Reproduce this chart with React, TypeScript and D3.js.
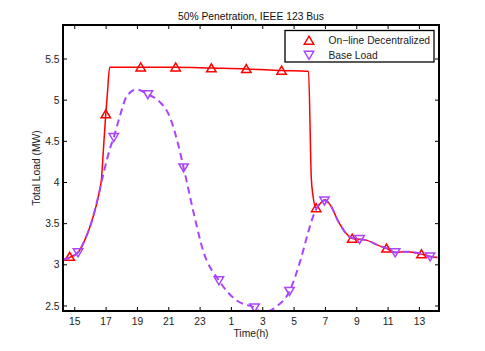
import React from "react";
import * as d3 from "d3";

// time in hours from 14:15 (values past 24 are the next morning)
const redTimes = [14.25, 14.68, 15.21, 15.64, 16.17, 16.55, 16.7, 16.84, 16.98, 17.08, 17.23, 19.21, 21.44, 23.72, 25.95, 28.2, 29.92, 30.1, 30.2, 30.41, 30.7, 30.98, 31.26, 31.9, 32.54, 32.71, 33.18, 33.6, 34.45, 34.9, 35.45, 36.15, 37.13, 37.68, 38.15];
const redLoad = [3.06, 3.09, 3.15, 3.3, 3.58, 3.87, 4.03, 4.43, 4.83, 5.07, 5.4, 5.4, 5.4, 5.39, 5.38, 5.36, 5.35, 4.05, 3.85, 3.69, 3.75, 3.79, 3.74, 3.5, 3.34, 3.32, 3.31, 3.3, 3.23, 3.2, 3.15, 3.16, 3.13, 3.1, 3.09];

const baseTimes = [14.25, 14.68, 15.21, 15.64, 16.17, 16.55, 16.85, 17.23, 17.49, 17.87, 18.3, 18.93, 19.67, 20.42, 21.06, 21.59, 21.95, 22.65, 23.18, 24.2, 25.31, 26.48, 26.99, 27.86, 28.71, 29.35, 29.88, 30.18, 30.94, 31.26, 31.9, 32.54, 33.18, 33.6, 34.45, 34.94, 35.45, 36.15, 37.0, 37.68, 38.15];
const baseLoad = [3.06, 3.09, 3.15, 3.3, 3.58, 3.87, 4.12, 4.4, 4.55, 4.8, 5.04, 5.13, 5.07, 4.98, 4.8, 4.47, 4.18, 3.58, 3.18, 2.81, 2.57, 2.48, 2.42, 2.49, 2.68, 3.02, 3.38, 3.57, 3.78, 3.74, 3.5, 3.34, 3.31, 3.3, 3.23, 3.2, 3.15, 3.16, 3.14, 3.1, 3.09];

const redMarkTimes = [14.68, 16.98, 19.21, 21.44, 23.72, 25.95, 28.2, 30.41, 32.71, 34.9, 37.13];
const redMarkLoad = [3.1, 4.83, 5.4, 5.4, 5.39, 5.38, 5.36, 3.69, 3.32, 3.2, 3.13];
const baseMarkTimes = [15.21, 17.49, 19.67, 21.95, 24.2, 26.48, 28.71, 30.94, 33.18, 35.45, 37.68];
const baseMarkLoad = [3.15, 4.55, 5.07, 4.18, 2.81, 2.48, 2.68, 3.78, 3.31, 3.15, 3.1];

const xTickValues = [15, 17, 19, 21, 23, 25, 27, 29, 31, 33, 35, 37];
const xTickLabels = ["15", "17", "19", "21", "23", "1", "3", "5", "7", "9", "11", "13"];
const yTickValues = [2.5, 3, 3.5, 4, 4.5, 5, 5.5];

const RED = "#ff0000";
const PURPLE = "#aa44ff";
const FONT = "'Liberation Sans', Arial, sans-serif";

const upTri = "M0,-4.3L4.7,3.7L-4.7,3.7Z";
const downTri = "M0,4.3L4.7,-3.7L-4.7,-3.7Z";

export default function App() {
  const left = 63, right = 439, top = 25, bottom = 311;
  const x = d3.scaleLinear().domain([14.25, 38.25]).range([left, right]);
  const y = d3.scaleLinear().domain([2.439, 5.913]).range([bottom, top]);

  const line = d3
    .line<[number, number]>()
    .x((d) => x(d[0]))
    .y((d) => y(d[1]))
    .curve(d3.curveMonotoneX);

  const redPath = line(redTimes.map((t, i) => [t, redLoad[i]])) || "";
  const basePath = line(baseTimes.map((t, i) => [t, baseLoad[i]])) || "";

  return (
    <svg width={485} height={351} style={{ position: "absolute", left: 0, top: 0, background: "#fff" }}>
      <defs>
        <clipPath id="plotclip">
          <rect x={left} y={top} width={right - left} height={bottom - top} />
        </clipPath>
      </defs>
      <rect width={485} height={351} fill="#fff" />
      <g clipPath="url(#plotclip)">
        <path d={redPath} fill="none" stroke={RED} strokeWidth={1.5} />
        {redMarkTimes.map((t, i) => (
          <path key={"r" + i} d={upTri} transform={`translate(${x(t)},${y(redMarkLoad[i])})`} fill="none" stroke={RED} strokeWidth={1.5} />
        ))}
        <path d={basePath} fill="none" stroke={PURPLE} strokeWidth={2} strokeDasharray="7,4.5" />
        {baseMarkTimes.map((t, i) => (
          <path key={"b" + i} d={downTri} transform={`translate(${x(t)},${y(baseMarkLoad[i])})`} fill="none" stroke={PURPLE} strokeWidth={1.5} />
        ))}
      </g>

      {/* ticks on all four sides, pointing in */}
      {xTickValues.map((v) => (
        <g key={"xt" + v} stroke="#000" strokeWidth={1}>
          <line x1={x(v)} x2={x(v)} y1={bottom} y2={bottom - 4} />
          <line x1={x(v)} x2={x(v)} y1={top} y2={top + 4} />
        </g>
      ))}
      {yTickValues.map((v) => (
        <g key={"yt" + v} stroke="#000" strokeWidth={1}>
          <line x1={left} x2={left + 4} y1={y(v)} y2={y(v)} />
          <line x1={right} x2={right - 4} y1={y(v)} y2={y(v)} />
        </g>
      ))}
      <rect x={left} y={top} width={right - left} height={bottom - top} fill="none" stroke="#000" strokeWidth={2} />

      <g fontFamily={FONT} fontSize={10.3} fill="#222">
        {xTickValues.map((v, i) => (
          <text key={"xl" + v} x={x(v)} y={325} textAnchor="middle">
            {xTickLabels[i]}
          </text>
        ))}
        {yTickValues.map((v) => (
          <text key={"yl" + v} x={59.5} y={y(v) + 3.6} textAnchor="end">
            {v}
          </text>
        ))}
        <text x={(left + right) / 2} y={336.5} textAnchor="middle">Time(h)</text>
        <text transform={`translate(39.5,${(top + bottom) / 2}) rotate(-90)`} textAnchor="middle">Total Load (MW)</text>
        <text x={(left + right) / 2} y={19.5} textAnchor="middle" fill="#111">50% Penetration, IEEE 123 Bus</text>
      </g>

      {/* legend */}
      <g>
        <rect x={285} y={30.5} width={149} height={31.5} fill="#fff" stroke="#000" strokeWidth={1.3} />
        <path d={upTri} transform="translate(309,40.5)" fill="none" stroke={RED} strokeWidth={1.5} />
        <path d={downTri} transform="translate(309,55)" fill="none" stroke={PURPLE} strokeWidth={1.5} />
        <g fontFamily={FONT} fontSize={10.3} fill="#222">
          <text x={328.5} y={44}>On−line Decentralized</text>
          <text x={328.5} y={58.5}>Base Load</text>
        </g>
      </g>
    </svg>
  );
}
